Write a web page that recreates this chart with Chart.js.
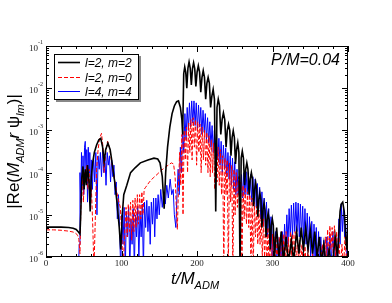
<!DOCTYPE html>
<html>
<head>
<meta charset="utf-8">
<script src="https://cdn.jsdelivr.net/npm/chart.js@4"></script>
<style>
  body { margin: 0; background: #fff; }
  canvas { display: block; }
</style>
</head>
<body>
<canvas id="c" width="392" height="303"></canvas>
<script>
// tick labels
const xTickLabels = [0, 100, 200, 300, 400];
const yDecades = [-1, -2, -3, -4, -5, -6];
const legendLabels = ['l=2, m=2', 'l=2, m=0', 'l=4, m=4'];
const note = 'P/M=0.04';

// l=2, m=2  [t, |Re|]
const l2m2 = [
  [0,5.1e-6],[10,5.1e-6],[20,5.1e-6],[30,5.0e-6],[36,4.8e-6],[40,4.5e-6],[43,3.9e-6],[45,3.5e-6],
  [46,1e-5],[47.5,8e-5],[49,1.4e-4],[50.5,4e-5],[52,1.2e-4],[53.5,5e-5],[55,1.5e-4],[57,6e-5],
  [58.5,1.2e-5],[60,8e-5],[62,1.8e-4],[64,3e-4],[67,4.5e-4],[70,6e-4],[72.5,6.5e-4],[75,4e-4],
  [77,1.8e-4],[79,3.5e-4],[82,5e-4],[85,3.5e-4],[88,1.5e-4],[91,6e-5],[94,2e-5],[97,5e-6],
  [99,1.5e-6],[101,1e-5],[103,3e-5],[107,5e-5],[112,1e-4],[118,1.3e-4],[125,1.7e-4],[135,2e-4],
  [143,2.2e-4],[148,2.1e-4],[151,1.7e-4],[154,8e-5],[156.5,1.4e-5],[158.5,1e-4],[161,4e-4],
  [164,1.2e-3],[167,2.5e-3],[170,3.8e-3],[173,4.8e-3],[175.5,5e-3],[178,3.5e-3],[180,1.8e-3],
  [181,8e-4],[182.4,2.2e-2],[183.75,3.2e-2],[185.1,2.4e-2],[186.5,1e-2],[188,3e-2],[189.5,4.2e-2],
  [191,3e-2],[192.5,1.2e-2],[194,2.9e-2],[195.5,4e-2],[197,2.9e-2],[198.5,1.1e-2],[200.1,2.4e-2],
  [201.75,3.4e-2],[203.4,2.4e-2],[205,8e-3],[206.6,1.8e-2],[208.25,2.6e-2],[209.9,1.8e-2],
  [211.5,5.5e-3],[213.1,1.3e-2],[214.75,1.8e-2],[216.4,1.3e-2],[218,3.5e-3],[219.7,6.5e-3],
  [221.4,9.3e-3],[223.1,5.5e-3],[224.8,1.2e-5],[226.5,3.5e-3],[228.15,5.5e-3],[229.8,3.9e-3],
  [231.5,8e-4],[233.25,1.8e-3],[235,2.6e-3],[236.75,1.8e-3],[238.5,4e-4],[240.1,1e-3],
  [241.75,1.4e-3],[243.4,1e-3],[245,2.5e-4],[246.5,6.8e-4],[248,9.8e-4],[249.5,6.8e-4],
  [251,1.6e-4],[252.5,3.6e-4],[254,5.1e-4],[255.5,3e-4],[257,5e-7],[258.5,2.2e-4],[260,3.2e-4],
  [261.5,2.2e-4],[263,5e-5],[264.5,1.2e-4],[266,1.7e-4],[267.5,1.2e-4],[269,3e-5],[270.5,7e-5],
  [272,1e-4],[273.5,7e-5],[275,1.6e-5],[276.4,4e-5],[277.75,5.8e-5],[279.1,4e-5],[280.5,9e-6],
  [281.9,2.3e-5],[283.25,3.3e-5],[284.6,2.3e-5],[286,5e-6],[287.4,1.3e-5],[288.75,1.9e-5],
  [290.1,1.3e-5],[291.5,3e-6],[292.9,7.7e-6],[294.25,1.1e-5],[295.6,7.7e-6],[297,1.5e-6],
  [298.4,5.6e-6],[299.75,8e-6],[301.1,5.6e-6],[302.5,1e-6],[305.5,5e-6],[308.5,1e-6],[311.5,4e-6],
  [314.5,8e-7],[318,3e-6],[321,7e-7],[325,2.5e-6],[328,8e-7],[332,4e-6],[335,1.2e-6],[338,5e-6],
  [341,1.5e-6],[344,5e-6],[347,1.5e-6],[350,4.5e-6],[353,1.2e-6],[356,4e-6],[359,1e-6],[362,3e-6],
  [365,7e-7],[368,2e-6],[371,6e-7],[375,1.5e-6],[379,5e-7],[383,3e-6],[386,1e-6],[389.5,1.2e-5],
  [391,1.8e-5],[393,2e-5],[395,1.2e-5],[397,3e-6],[398.5,1.5e-6],[400,6e-6]
];

// l=2, m=0
const l2m0 = [
  [0,4.4e-6],[10,4.4e-6],[20,4.3e-6],[30,4.1e-6],[36,3.9e-6],[40,3.6e-6],[42,3.2e-6],[43.5,2.6e-6],
  [45,1.2e-6],[46.5,3e-5],[48,8e-5],[49.5,2e-5],[51,1e-4],[52.5,6e-5],[54,1.5e-4],[55.5,4e-5],
  [57,1.2e-4],[58.5,2e-5],[60,5e-5],[62,5e-6],[63.5,5e-7],[65,5e-6],[67,1.2e-4],[69,3.5e-4],
  [71,6.5e-4],[73.5,8.5e-4],[75.5,4e-4],[77,1e-4],[79,3e-4],[81.5,5.5e-4],[84,4e-4],[87,1.8e-4],
  [90,8e-5],[93,4e-5],[96,2.2e-5],[98.5,1.5e-5],[100.5,3e-6],[102,5e-7],[104,3e-6],[106,1.5e-5],
  [107.5,3e-6],[109,1.8e-5],[110.5,4e-6],[112,2e-5],[113.5,2.5e-6],[115,2.2e-5],[116.5,4e-6],
  [118,2.5e-5],[119.5,5e-6],[121,3e-5],[122.5,6e-6],[124,3e-5],[125.5,8e-6],[127,3.5e-5],
  [128.5,1e-5],[130,4e-5],[132,4.5e-5],[137,6e-5],[142,7.5e-5],[147,9e-5],[152,1.1e-4],
  [157,1.3e-4],[162,1.5e-4],[166,1.7e-4],[169,1.6e-4],[171,8e-5],[173,1e-5],[174,4.5e-6],
  [175.5,5e-5],[177,3e-4],[178.5,5e-5],[180,8e-4],[181.5,1e-5],[183,1e-3],[184.5,2e-4],
  [186,1.2e-3],[187.5,1e-4],[189,1.5e-3],[190.5,3e-4],[192,1.8e-3],[193.5,2e-4],[195,2e-3],
  [196.5,4e-4],[198,1.8e-3],[199.5,1.5e-4],[201,1.6e-3],[202.5,3e-4],[204,1.4e-3],[205.5,1e-4],
  [207,1.2e-3],[208.5,2e-4],[210,1e-3],[211.5,1.5e-4],[213,9e-4],[214.5,1e-4],[216,7.5e-4],
  [217.5,8e-5],[219,6e-4],[220.5,1e-4],[222,5e-4],[223.5,4e-5],[225,4.5e-4],[226.5,6e-5],
  [228,4e-4],[229.5,5e-5],[231,3.5e-4],[232.5,3e-5],[234,2.5e-4],[235.5,5e-7],[237,2.2e-4],
  [238.5,3e-5],[240,2e-4],[241.5,5e-7],[243,1.7e-4],[244.5,2e-5],[246,1.5e-4],[247.5,5e-7],
  [249,1.2e-4],[250.5,1e-5],[252,1e-4],[253.5,1.5e-5],[255,8e-5],[256.5,1e-5],[258,6e-5],
  [259.5,5e-7],[261,5e-5],[262.5,8e-6],[264,4.5e-5],[265.5,6e-6],[267,3.5e-5],[268.5,5e-6],
  [270,3e-5],[271.5,5e-7],[273,2.5e-5],[274.5,5e-7],[276,2e-5],[277.5,3e-6],[279,1.6e-5],
  [280.5,2e-6],[282,1.3e-5],[283.5,2e-6],[285,1e-5],[286.5,1e-6],[288,8e-6],[289.5,1e-6],
  [291,6e-6],[292.5,5e-7],[294,5e-6],[295.5,5e-7],[297,4e-6],[298.5,5e-7],[300,3.5e-6],
  [301.5,5e-7],[303,3e-6],[304.5,6e-7],[306,2.5e-6],[307.5,5e-7],[309,3e-6],[310.5,6e-7],
  [312,4e-6],[313.5,5e-7],[315,3.5e-6],[316.5,8e-7],[318,4e-6],[319.5,5e-7],[321,3e-6],
  [322.5,5e-7],[324,4e-6],[325.5,1e-6],[327,3.5e-6],[328.5,5e-7],[330,4e-6],[331.5,5e-7],
  [333,3e-6],[334.5,8e-7],[336,2.5e-6],[337.5,5e-7],[339,2e-6],[341,5e-7],[343,1.8e-6],
  [345,5e-7],[347,1.5e-6],[350,5e-7],[353,1.2e-6],[356,5e-7],[360,1.5e-6],[363,5e-7],[366,2e-6],
  [368,6e-7],[370,3e-6],[371.5,8e-7],[373,4.5e-6],[374.5,1e-6],[376,5.5e-6],[377.5,1.5e-6],
  [379,5e-6],[380.5,1e-6],[382,5.5e-6],[383.5,1e-6],[385,4e-6],[386.5,5e-7],[388,3e-6],
  [390,5e-7],[392,2e-6],[394,5e-7],[396,3e-6],[398,8e-7],[400,2e-6]
];

// l=4, m=4
const l4m4 = [
  [43,5e-7],[44,2e-6],[45,1e-4],[46,2e-5],[47,3e-4],[48,5e-5],[49,2.5e-4],[50,3e-5],[51,4e-4],
  [52,5.5e-4],[53,8e-5],[54,3.5e-4],[55,2e-5],[56,4e-4],[57,1e-4],[58,3e-4],[59,1.5e-5],[60,2e-4],
  [61.5,4e-5],[63,2.5e-4],[64.5,6e-5],[66,3e-4],[67.5,1e-5],[69,2.5e-4],[70.5,1.2e-4],[72,3e-4],
  [73.5,8e-5],[75,3.5e-4],[76.5,1e-4],[78,2.5e-4],[79.5,5e-5],[81,3e-4],[82.5,1.5e-4],[84,2.5e-4],
  [85.5,6e-5],[87,2e-4],[88.5,8e-5],[90,1.5e-4],[91.5,3e-5],[93,6e-5],[94.5,8e-6],[96,3e-5],
  [97.5,4e-6],[99,5e-7],[100.5,1e-5],[102,2e-6],[103.5,1.5e-5],[105,5e-7],[106.5,1.2e-5],
  [108,3e-6],[109.5,1.5e-5],[111,5e-7],[112.5,8e-6],[114,2e-6],[115.5,1.4e-5],[117,5e-7],
  [118.5,1e-5],[120,3e-6],[121.5,1.6e-5],[123,8e-7],[124.5,1.2e-5],[126,3e-6],[127.5,1.8e-5],
  [129,5e-7],[130.5,2e-5],[132,5e-6],[133.5,2.2e-5],[135,4e-6],[136.5,1.6e-5],[138,2e-6],
  [139.5,2e-5],[141,6e-6],[142.5,2.5e-5],[144,3e-6],[145.5,2.5e-5],[147,8e-6],[148.5,3e-5],
  [150,1e-5],[152,4e-5],[154,1.5e-5],[156,3.5e-5],[158,1.8e-5],[160,5e-5],[162,2.5e-5],
  [164.5,7e-5],[166.5,3e-5],[168.5,4e-5],[170,1e-5],[172,5e-6],[173.5,3e-5],[175,1.2e-4],
  [176.5,3e-5],[178,4e-4],[179.5,1e-4],[181,1.2e-3],[182.5,3e-4],[184,2.5e-3],[185.5,6e-4],
  [187,3.5e-3],[188.5,1e-3],[190,4.5e-3],[191.5,1.2e-3],[193,5e-3],[194.5,1.5e-3],[196,5e-3],
  [197.5,1.3e-3],[199,4.5e-3],[200.5,1e-3],[202,4e-3],[203.5,1.2e-3],[205,3.5e-3],[206.5,8e-4],
  [208,3e-3],[209.5,9e-4],[211,2.5e-3],[212.5,6e-4],[214,2e-3],[215.5,5e-4],[217,1.6e-3],
  [218.5,4e-4],[220,1.3e-3],[221.5,3e-4],[223,1e-3],[224.5,2.5e-4],[226,8e-4],[227.5,2e-4],
  [229,6.5e-4],[230.5,1.5e-4],[232,5.5e-4],[233.5,1e-4],[235,4.5e-4],[236.5,1.2e-4],[238,3.8e-4],
  [239.5,8e-5],[241,3e-4],[242.5,7e-5],[244,2.5e-4],[245.5,5e-5],[247,2.2e-4],[248.5,4e-5],
  [250,1.8e-4],[251.5,3e-5],[253,1.2e-4],[254.5,3e-5],[256,8e-5],[257.5,2.5e-5],[259,9e-5],
  [260.5,2.5e-5],[262,1e-4],[263.5,3e-5],[265,1.05e-4],[266.5,3e-5],[268,1e-4],[269.5,2.5e-5],
  [271,9e-5],[272.5,2e-5],[274,8e-5],[275.5,2e-5],[277,7e-5],[278.5,1.5e-5],[280,5.5e-5],
  [281.5,1.2e-5],[283,4.5e-5],[284.5,8e-6],[286,3.5e-5],[287.5,6e-6],[289,2.5e-5],[290.5,5e-6],
  [292,2e-5],[293.5,3e-6],[295,1.4e-5],[296.5,2e-6],[298,9e-6],[299.5,1e-6],[301,6e-6],
  [302.5,1e-6],[304,4e-6],[305.5,5e-7],[307,3e-6],[308.5,5e-7],[310,2.5e-6],[311.5,5e-7],
  [313,4e-6],[314.5,1e-6],[316,6e-6],[317.5,1.5e-6],[319,1e-5],[320.5,2e-6],[322,1.4e-5],
  [323.5,3e-6],[325,1.7e-5],[326.5,3e-6],[328,1.9e-5],[329.5,4e-6],[331,2e-5],[332.5,4e-6],
  [334,1.9e-5],[335.5,3e-6],[337,1.8e-5],[338.5,3e-6],[340,1.6e-5],[341.5,2e-6],[343,1.4e-5],
  [344.5,2e-6],[346,1.1e-5],[347.5,1.5e-6],[349,9e-6],[350.5,1e-6],[352,7e-6],[353.5,1e-6],
  [355,6e-6],[356.5,5e-7],[358,5e-6],[359.5,5e-7],[361,4e-6],[362.5,5e-7],[364,3e-6],[366,5e-7],
  [368,2.5e-6],[370,5e-7],[372,3e-6],[374,6e-7],[376,3.5e-6],[378,8e-7],[380,4e-6],[382,6e-7],
  [384,3e-6],[386,5e-7],[388,8e-6],[389.5,2e-6],[391,1.8e-5],[392.5,4e-6],[394,1.5e-5],
  [395.5,3e-6],[397,6e-6],[398.5,1e-6],[400,2e-6]
];

const SANS = '"Liberation Sans", Arial, sans-serif';
const SERIF = '"Liberation Serif", "Times New Roman", serif';

const series = [
  { label: legendLabels[0], data: l2m2, color: '#000000', width: 1.6, dash: [] },
  { label: legendLabels[1], data: l2m0, color: '#ff0000', width: 1, dash: [4, 2] },
  { label: legendLabels[2], data: l4m4, color: '#0000ff', width: 1, dash: [] }
];

// draw a run of text pieces (font, vertical shift) starting at x
function drawRich(ctx, parts, x, y, align) {
  let total = 0;
  parts.forEach(p => { ctx.font = p.font; total += ctx.measureText(p.text).width; });
  let cx = align === 'center' ? x - total / 2 : x;
  ctx.textAlign = 'left';
  parts.forEach(p => {
    ctx.font = p.font;
    ctx.fillText(p.text, cx, y + (p.dy || 0));
    cx += ctx.measureText(p.text).width;
  });
}

const decor = {
  id: 'decor',
  afterDraw(chart) {
    const { ctx, chartArea: a, scales } = chart;
    const xs = scales.x, ys = scales.y;
    ctx.save();
    ctx.strokeStyle = '#000';
    ctx.fillStyle = '#000';
    ctx.lineWidth = 1;
    ctx.setLineDash([]);
    const seg = (x1, y1, x2, y2) => { ctx.beginPath(); ctx.moveTo(x1, y1); ctx.lineTo(x2, y2); ctx.stroke(); };

    // frame
    ctx.strokeRect(a.left + 0.5, a.top + 0.5, a.right - a.left - 1, a.bottom - a.top - 1);

    // x ticks
    for (let t = 0; t <= 400; t += 20) {
      const px = Math.round(xs.getPixelForValue(t)) + 0.5;
      const len = t % 100 === 0 ? 6 : 3;
      seg(px, a.bottom, px, a.bottom - len);
      seg(px, a.top, px, a.top + len);
    }
    // y ticks
    yDecades.forEach(d => {
      const py = Math.round(ys.getPixelForValue(Math.pow(10, d))) + 0.5;
      seg(a.left, py, a.left + 6, py);
      seg(a.right, py, a.right - 6, py);
      if (d > -6) return;
    });
    for (let d = -6; d < -1; d++) {
      for (let m = 2; m <= 9; m++) {
        const py = Math.round(ys.getPixelForValue(m * Math.pow(10, d))) + 0.5;
        seg(a.left, py, a.left + 3, py);
        seg(a.right, py, a.right - 3, py);
      }
    }

    // tick labels
    ctx.fillStyle = '#222';
    ctx.textBaseline = 'alphabetic';
    ctx.font = '9px ' + SERIF;
    ctx.textAlign = 'center';
    xTickLabels.forEach(v => {
      ctx.fillText(String(v), xs.getPixelForValue(v), a.bottom + 9);
    });
    yDecades.forEach(d => {
      const py = ys.getPixelForValue(Math.pow(10, d));
      ctx.font = '6px ' + SERIF;
      const sup = String(d);
      const sw = ctx.measureText(sup).width;
      ctx.textAlign = 'right';
      ctx.fillText(sup, 43, py - 2);
      ctx.font = '9px ' + SERIF;
      ctx.fillText('10', 43 - sw, py + 5);
    });

    // axis titles
    ctx.fillStyle = '#000';
    drawRich(ctx, [
      { text: 't/M', font: 'italic 17px ' + SANS },
      { text: 'ADM', font: 'italic 11px ' + SANS, dy: 5 }
    ], 171, 284, 'left');

    ctx.save();
    ctx.translate(19, (a.top + a.bottom) / 2);
    ctx.rotate(-Math.PI / 2);
    drawRich(ctx, [
      { text: '|Re(', font: '17px ' + SANS },
      { text: 'M', font: 'italic 17px ' + SANS },
      { text: 'ADM', font: 'italic 11px ' + SANS, dy: 5 },
      { text: 'r ', font: 'italic 17px ' + SANS },
      { text: 'ψ', font: '17px ' + SANS },
      { text: 'lm', font: 'italic 11px ' + SANS, dy: 5 },
      { text: ')|', font: '17px ' + SANS }
    ], 0, 0, 'center');
    ctx.restore();

    // annotation
    ctx.font = 'italic 16px ' + SANS;
    ctx.textAlign = 'right';
    ctx.fillText(note, 340, 65);

    // legend box
    ctx.fillStyle = '#888';
    ctx.fillRect(56, 56, 85, 46);
    ctx.fillStyle = '#fff';
    ctx.fillRect(54, 54, 85, 46);
    ctx.strokeStyle = '#000';
    ctx.strokeRect(54.5, 54.5, 84, 45);
    const rows = [62.5, 77.5, 91.5];
    series.forEach((s, i) => {
      ctx.strokeStyle = s.color;
      ctx.lineWidth = s.width;
      ctx.setLineDash(s.dash);
      seg(58, rows[i], 80, rows[i]);
      ctx.setLineDash([]);
      ctx.fillStyle = '#000';
      ctx.font = 'italic 12px ' + SANS;
      ctx.textAlign = 'left';
      ctx.fillText(s.label, 85, rows[i] + 4.5);
    });
    ctx.restore();
  }
};

new Chart(document.getElementById('c'), {
  type: 'line',
  data: {
    datasets: series.map(s => ({
      label: s.label,
      data: s.data.map(p => ({ x: p[0], y: p[1] })),
      borderColor: s.color,
      borderWidth: s.width,
      borderDash: s.dash,
      pointRadius: 0,
      fill: false,
      tension: 0
    }))
  },
  options: {
    responsive: false,
    animation: false,
    devicePixelRatio: 1,
    layout: { padding: { top: 46, right: 44, left: 0, bottom: 0 } },
    plugins: { legend: { display: false }, tooltip: { enabled: false } },
    scales: {
      x: {
        type: 'linear', min: 0, max: 400,
        grid: { display: false }, border: { display: false },
        ticks: { display: false },
        afterFit: s => { s.height = 46; }
      },
      y: {
        type: 'logarithmic', min: 1e-6, max: 1e-1,
        grid: { display: false }, border: { display: false },
        ticks: { display: false },
        afterFit: s => { s.width = 46; }
      }
    }
  },
  plugins: [decor]
});
</script>
</body>
</html>
